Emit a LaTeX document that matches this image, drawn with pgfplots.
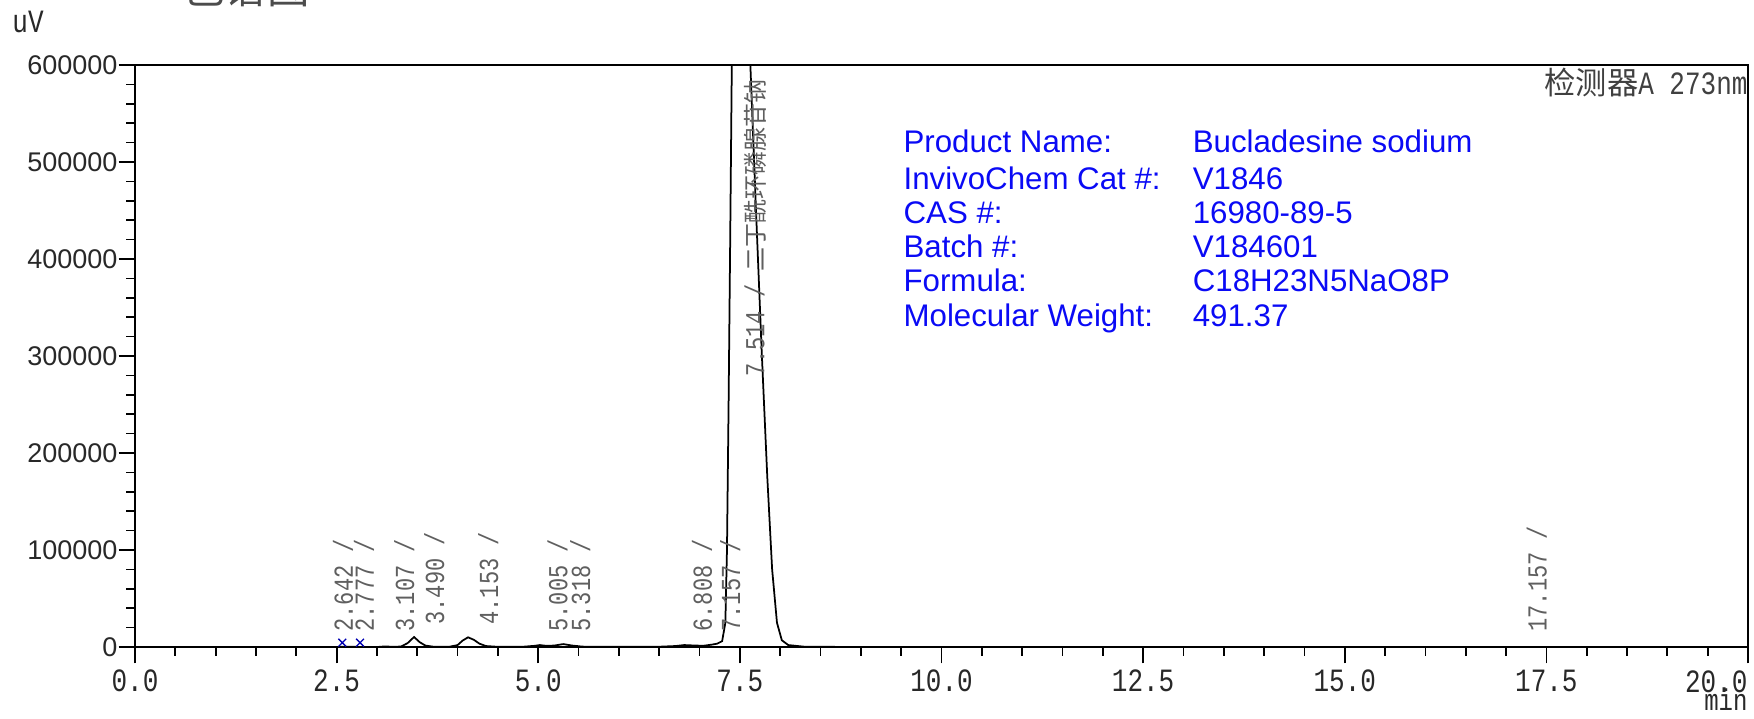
\documentclass[border=0pt]{standalone}
\usepackage{fontspec}
\usepackage{pgfplots}
\pgfplotsset{compat=1.18}
\setmainfont{Liberation Sans}
\newfontfamily\monofont[FakeStretch=0.8]{Liberation Mono}
\newfontfamily\cjk{Noto Sans CJK SC}
\definecolor{infoblue}{RGB}{10,10,245}
\definecolor{labgray}{RGB}{95,95,95}
\definecolor{tickgray}{RGB}{40,40,40}
\newcommand{\tickfont}{\monofont\fontsize{13}{13}\selectfont}
\newcommand{\peakfont}{\monofont\fontsize{11}{11}\selectfont}

\begin{document}
\begin{tikzpicture}
\path[use as bounding box] (-54pt,-28.4pt) rectangle (647.6pt,258.8pt);
\begin{axis}[
  at={(0,0)}, anchor=south west,
  scale only axis, width=645.2pt, height=232.8pt,
  xmin=0, xmax=20, ymin=0, ymax=600000,
  axis line style={line width=0.8pt},
  clip mode=individual,
  tick align=outside, tick style={black, line width=0.7pt},
  major tick length=6.5pt, minor tick length=3.5pt,
  xtick pos=bottom, ytick pos=left,
  xtick={0,2.5,5,7.5,10,12.5,15,17.5,20}, minor x tick num=4,
  xticklabels={0.0,2.5,5.0,7.5,10.0,12.5,15.0,17.5,{}},
  ytick={0,100000,200000,300000,400000,500000,600000}, minor y tick num=4,
  yticklabels={0,100000,200000,300000,400000,500000,600000},
  scaled y ticks=false,
  xticklabel style={font=\tickfont, text=tickgray, anchor=north, yshift=0.8pt},
  yticklabel style={font=\fontsize{10.8}{10}\selectfont, text=tickgray, xshift=3pt},
]
% chromatogram trace (main peak is off scale above 600000)
\addplot[black, line width=0.7pt] coordinates {
 (0,0)(2.5,0)(2.6,300)(2.7,300)(2.8,0)(3.0,0)(3.1,600)(3.2,200)(3.30,500)
 (3.38,4000)(3.46,10300)(3.53,5000)(3.60,1500)(3.70,300)(3.90,300)(4.00,2000)
 (4.06,6500)(4.13,10000)(4.20,7500)(4.27,3500)(4.35,1000)(4.50,200)(4.80,200)
 (4.95,1200)(5.02,2000)(5.10,1200)(5.20,1500)(5.31,3000)(5.42,1500)(5.55,400)
 (6.00,200)(6.50,300)(6.70,1000)(6.81,2000)(6.95,1500)(7.05,1300)(7.157,2500)
 (7.22,3500)(7.28,6000)(7.32,25000)(7.34,100000)(7.36,250000)(7.38,420000)
 (7.40,600000)(7.43,1200000)(7.514,1800000)(7.59,1200000)(7.63,600000)
 (7.70,450000)(7.77,306000)(7.84,175000)(7.90,80000)(7.96,25000)(8.02,7000)
 (8.10,2000)(8.30,300)(9,0)(20,0)
};
% integration markers
\addplot[only marks, mark=x, mark size=2.2pt, color=blue!70!black, line width=0.5pt]
  coordinates {(2.57,4500)(2.79,4500)};

% peak labels
\begin{scope}[every node/.style={rotate=90, anchor=west, inner sep=0pt, font=\peakfont, text=labgray}]
\node at (axis cs:2.58,15500) {2.642 /};
\node at (axis cs:2.84,15500) {2.777 /};
\node at (axis cs:3.34,15500) {3.107 /};
\node at (axis cs:3.71,22700) {3.490 /};
\node at (axis cs:4.38,22700) {4.153 /};
\node at (axis cs:5.24,15500) {5.005 /};
\node at (axis cs:5.52,15500) {5.318 /};
\node at (axis cs:7.03,15500) {6.808 /};
\node at (axis cs:7.38,15500) {7.157 /};
\node at (axis cs:7.69,278000) {7.514 / {\cjk\fontsize{9.6}{9.6}\selectfont 二丁酰环磷腺苷钠}};
\node at (axis cs:17.38,15500) {17.157 /};
\end{scope}

% product information
\begin{scope}[every node/.style={anchor=base west, inner sep=0pt, text=infoblue, font=\fontsize{12.5}{12.5}\selectfont}]
\node at (rel axis cs:0.4762,0.8505) {Product Name:};
\node at (rel axis cs:0.4762,0.7869) {InvivoChem Cat \#:};
\node at (rel axis cs:0.4762,0.7285) {CAS \#:};
\node at (rel axis cs:0.4762,0.6701) {Batch \#:};
\node at (rel axis cs:0.4762,0.6117) {Formula:};
\node at (rel axis cs:0.4762,0.5515) {Molecular Weight:};
\node at (rel axis cs:0.6555,0.8505) {Bucladesine sodium};
\node at (rel axis cs:0.6555,0.7869) {V1846};
\node at (rel axis cs:0.6555,0.7285) {16980-89-5};
\node at (rel axis cs:0.6555,0.6701) {V184601};
\node at (rel axis cs:0.6555,0.6117) {C18H23N5NaO8P};
\node at (rel axis cs:0.6555,0.5515) {491.37};
\end{scope}

% detector, units
\node[anchor=base east, inner sep=0pt, text=black!75] at (rel axis cs:1,0.9485)
  {{\cjk\fontsize{12.5}{12.5}\selectfont 检测器}{\tickfont A 273nm}};
\node[anchor=base west, inner sep=0pt, text=tickgray, font=\tickfont] at (rel axis cs:-0.0763,1.0567) {uV};
\node[anchor=base east, inner sep=0pt, text=tickgray, font={\monofont\fontsize{12}{12}\selectfont}] at (rel axis cs:1,-0.109) {min};
\node[anchor=north east, inner sep=0pt, text=tickgray, font=\tickfont] at (rel axis cs:1,-0.0395) {20.0};
\node[anchor=base, inner sep=0pt, text=black!70, font={\cjk\fontsize{17}{17}\selectfont}] at (rel axis cs:0.0688,1.1057) {< 色谱图 >};
\end{axis}
\end{tikzpicture}
\end{document}
